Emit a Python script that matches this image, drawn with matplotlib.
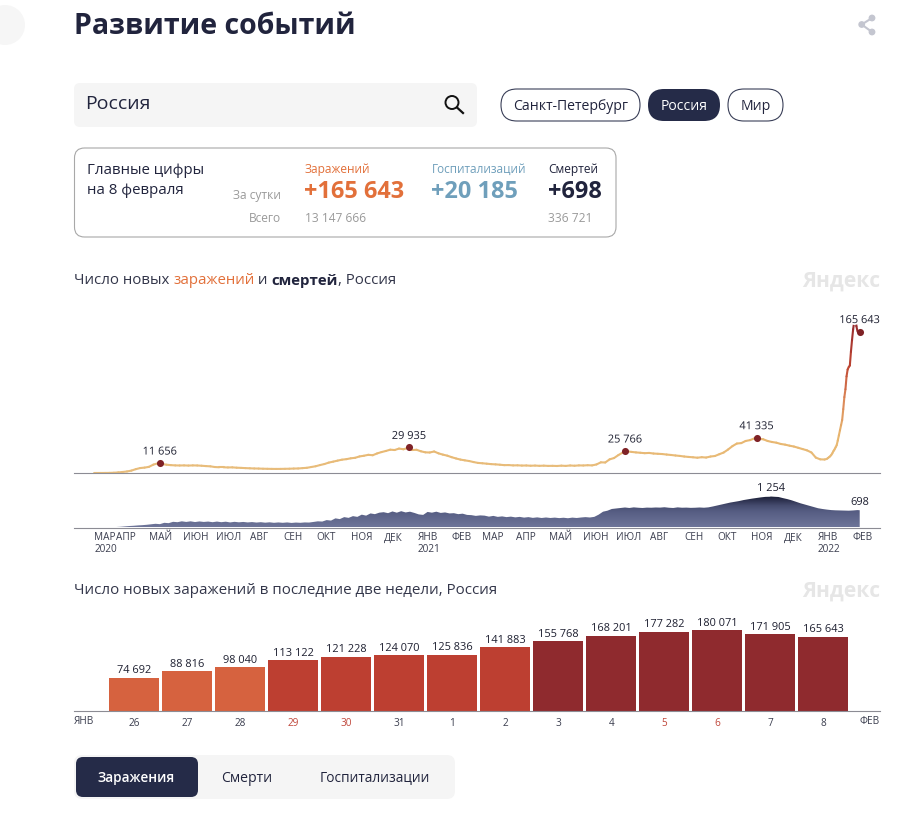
import numpy as np
import pandas as pd
import matplotlib
matplotlib.use('Agg')
from matplotlib import pyplot as plt
from matplotlib.collections import LineCollection
from matplotlib.colors import LinearSegmentedColormap, Normalize
from matplotlib.patches import FancyBboxPatch, Circle
import matplotlib.patheffects as pe
import matplotlib.dates as mdates

plt.rcParams['font.family'] = ['Open Sans', 'DejaVu Sans']

W, H = 921, 814

# новые заражения, раз в 4 дня с 14 марта 2020
cases_grid = [10, 30, 60, 130, 300,
              700, 1200, 1800, 2800, 4500, 5800, 6300,
              7200, 9800, 11300, 10500, 9700, 9200, 8900, 8800,
              8900, 8700, 8900, 8800, 8500, 8100, 7800, 7000,
              6700, 6700, 6500, 6600, 6200, 6000, 5700,
              5500, 5300, 5200, 5000, 4900, 4800, 4750, 4800,
              4900, 5000, 5200, 5300, 5700, 6100, 7000, 7900,
              9300, 10500, 12200, 13300, 14500, 15600, 16200,
              17200, 17800, 19400, 20200, 21300, 20800, 22900, 24500,
              25800, 27300, 26900, 28600, 27800, 29300, 26900, 27200,
              25400, 24200, 24000, 25200, 23000, 21500, 20300,
              18500, 17000, 15700, 14800, 14000, 12800, 11800,
              11400, 10900, 10400, 10100, 9700, 9200, 9300, 8900,
              9000, 8700, 8800, 8500, 8700, 8400, 8600, 8300,
              8400, 8200, 8600, 8300, 8800, 8500, 8900,
              8800, 9100, 8900, 10000, 12500, 12300, 16000, 17500,
              21000, 24000, 25300, 24700, 24100, 23700, 23200, 23500,
              22800, 22500, 22200, 21600, 21100, 20500, 20000,
              19300, 18800, 18400, 17900, 18500, 18100, 19300, 19900,
              22000, 24000, 27500, 31500, 34500, 35000, 37500, 38500,
              40500, 40000, 39500, 37500, 36300, 35500, 34000,
              33200, 32000, 31000, 29500, 28000, 26500, 24000, 18000,
              16000, 15800]
# январь 2022 по дням, с 9 по 23
cases_jan = [16500, 17500, 18500, 19500, 21000, 23000, 25500, 27500, 30000, 32500, 38000, 44000, 50000, 56000, 62000]

# последние две недели
bar_days = ['26', '27', '28', '29', '30', '31', '1', '2', '3', '4', '5', '6', '7', '8']
bar_values = [74692, 88816, 98040, 113122, 121228, 124070, 125836,
              141883, 155768, 168201, 177282, 180071, 171905, 165643]
bar_weekend = ['29', '30', '5', '6']

peak_dates = ['2020-05-11', '2020-12-24', '2021-07-09', '2021-11-06', '2022-02-08']
peak_values = [11656, 29935, 25766, 41335, 165643]

# смерти, раз в 4 дня с 12 марта 2020
deaths = [2, 3, 5, 8, 12,
          20, 30, 45, 60, 70, 85, 95, 110,
          130, 150, 135, 190, 175, 230, 215, 250,
          225, 250, 220, 245, 225, 240, 215,
          240, 215, 235, 205, 230, 210, 225, 205,
          220, 200, 215, 195, 210, 190, 205, 190,
          205, 185, 200, 190, 205, 200, 225,
          250, 240, 300, 280, 370, 340, 420, 390,
          460, 430, 520, 480, 570, 540, 600,
          620, 580, 650, 600, 660, 610, 640, 590,
          530, 510, 630, 600, 640, 590, 610, 570,
          580, 540, 560, 510, 500, 470, 490,
          480, 440, 470, 430, 450, 420, 440, 410,
          430, 400, 420, 390, 410, 385, 405,
          385, 400, 380, 395, 375, 400, 385, 405,
          420, 405, 430, 520, 640, 680, 750,
          770, 790, 810, 790, 815, 800, 790, 805,
          800, 810, 805, 820, 800, 790, 815, 800,
          805, 795, 800, 810, 800, 815, 850,
          890, 930, 970, 1010, 1040, 1070, 1110, 1140,
          1170, 1195, 1220, 1240, 1245, 1245, 1235, 1190,
          1150, 1100, 1040, 980, 930, 880, 830,
          780, 750, 725, 705, 695, 690, 685, 680,
          690, 705]
death_peak_date = '2021-11-19'
death_peak = 1254
death_last_date = '2022-02-08'
death_last = 698

month_dates = ['2020-03-12', '2020-04-01', '2020-05-01', '2020-06-01', '2020-07-01', '2020-08-01',
               '2020-09-01', '2020-10-01', '2020-11-01', '2020-12-01', '2021-01-01', '2021-02-01',
               '2021-03-01', '2021-04-01', '2021-05-01', '2021-06-01', '2021-07-01', '2021-08-01',
               '2021-09-01', '2021-10-01', '2021-11-01', '2021-12-01', '2022-01-01', '2022-02-01']
month_labels = ['МАР\n2020', 'АПР', 'МАЙ', 'ИЮН', 'ИЮЛ', 'АВГ', 'СЕН', 'ОКТ', 'НОЯ', 'ДЕК',
                'ЯНВ\n2021', 'ФЕВ', 'МАР', 'АПР', 'МАЙ', 'ИЮН', 'ИЮЛ', 'АВГ', 'СЕН', 'ОКТ',
                'НОЯ', 'ДЕК', 'ЯНВ\n2022', 'ФЕВ']


def fs(px):
    return px * 0.72


def fmt(v):
    return f'{v:,}'.replace(',', ' ')


def make_axes(x0, x1, ytop, ybottom):
    return fig.add_axes([x0 / W, 1 - ybottom / H, (x1 - x0) / W, (ybottom - ytop) / H])


def rbox(x0, y0, x1, y1, r, fc, ec='none', lw=0.8):
    ui.add_patch(FancyBboxPatch((x0 + r, y0 + r), x1 - x0 - 2 * r, y1 - y0 - 2 * r,
                                boxstyle=f'round,pad={r},rounding_size={r}', fc=fc, ec=ec, lw=lw))


def label(x, y, s, px=14, c='#21243d', ha='left', weight='normal'):
    # va=center у этого шрифта сидит выше, чем надо
    return ui.text(x, y + 2, s, fontsize=fs(px), color=c, ha=ha, va='center', fontweight=weight)


fig = plt.figure(figsize=(W / 100, H / 100), dpi=100, facecolor='white')

# весь интерфейс рисуем в пикселях
ui = fig.add_axes([0, 0, 1, 1])
ui.set_xlim(0, W)
ui.set_ylim(H, 0)
ui.axis('off')

NAVY = '#252b48'
ORANGE = '#e2703a'
BLUE = '#6f9fbb'
GREY = '#9a9a9a'
TEXT = '#1d1f30'

ui.add_patch(Circle((5, 25), 20, fc='#f6f6f6', ec='none'))
label(74, 25, 'Развитие событий', 28.5, '#21243d', weight='bold')

# поделиться
sx = [861.7, 872, 872]
sy = [24.5, 18, 32]
ui.plot([sx[1], sx[0], sx[2]], [sy[1], sy[0], sy[2]], color='#c4c6d0', lw=1.5)
for a, b in zip(sx, sy):
    ui.add_patch(Circle((a, b), 3.4, fc='#c4c6d0', ec='none'))

# поиск
rbox(74, 83, 477, 127, 6, '#f5f5f5')
label(85, 102, 'Россия', 19.5, '#21243d')
ui.add_patch(Circle((452, 102.5), 6.5, fc='none', ec='#111111', lw=1.4))
ui.plot([457, 463], [107.5, 113], color='#111111', lw=1.6)

rbox(501, 89, 640, 121, 16, 'white', '#3a3f58')
label(570.5, 105, 'Санкт-Петербург', 14, '#21243d', 'center')
rbox(648, 89, 720, 121, 16, NAVY)
label(684, 105, 'Россия', 14, 'white', 'center')
rbox(728, 89, 783, 121, 16, 'white', '#3a3f58')
label(755.5, 105, 'Мир', 14, '#21243d', 'center')

# главные цифры
rbox(74.5, 148, 616, 237, 10, 'white', '#a8a8a8')
label(87, 169, 'Главные цифры', 15, '#21243d')
label(87, 189, 'на 8 февраля', 15, '#21243d')
label(281, 193, 'За сутки', 12, GREY, 'right')
label(281, 216, 'Всего', 12, GREY, 'right')
label(305, 167, 'Заражений', 12, ORANGE)
label(304, 190, '+165 643', 23.5, ORANGE, weight='bold')
label(305, 216, '13 147 666', 12, GREY)
label(432, 167, 'Госпитализаций', 11.7, BLUE)
label(431, 190, '+20 185', 23.5, BLUE, weight='bold')
label(548, 167, 'Смертей', 12, '#21243d')
label(548, 190, '+698', 23.5, '#21243d', weight='bold')
label(548, 216, '336 721', 12, GREY)

# заголовок из кусков разного цвета
prev = label(74, 279, 'Число новых ', 15, '#33364a')
for s, c, w in [('заражений', ORANGE, 'normal'), (' и ', '#33364a', 'normal'),
                ('смертей', '#21243d', 'bold'), (', Россия', '#33364a', 'normal')]:
    prev = ui.annotate(s, xy=(1, 0), xycoords=prev, xytext=(0, 0), textcoords='offset points',
                       va='bottom', ha='left', fontsize=fs(15), color=c, fontweight=w)
label(74, 589, 'Число новых заражений в последние две недели, Россия', 15.1, '#33364a')
label(880, 279, 'Яндекс', 21, '#e6e6e6', 'right', 'bold')
label(880, 589, 'Яндекс', 21, '#e6e6e6', 'right', 'bold')

# табы снизу
rbox(74, 755, 455, 799, 8, '#f5f5f5')
rbox(76, 757, 198, 797, 7, NAVY)
label(136.5, 776, 'Заражения', 13.5, 'white', 'center', 'semibold')
label(247, 776, 'Смерти', 14, '#21243d', 'center')
label(375, 776, 'Госпитализации', 13.7, '#21243d', 'center')

# 1 апр 2020 -> 116 px, 1.097 px в день
xlim_dates = mdates.date2num([pd.Timestamp('2020-02-22 16:00'), pd.Timestamp('2022-02-26 12:00')])

# график заражений
ax = make_axes(74, 880, 300, 473)
ax.patch.set_alpha(0)
grid_d = pd.date_range('2020-03-14', periods=len(cases_grid), freq='4D')
jan_d = pd.date_range('2022-01-09', periods=len(cases_jan), freq='D')
# на исходной картинке линия заканчивается левее точки, поэтому конец сдвинут на 2 дня
bar_d = pd.date_range('2022-01-24', periods=len(bar_values), freq='D')
s = pd.concat([pd.Series(cases_grid, index=grid_d), pd.Series(peak_values[:4], index=pd.to_datetime(peak_dates[:4])),
               pd.Series(cases_jan, index=jan_d), pd.Series(bar_values, index=bar_d),
               pd.Series([5], index=pd.to_datetime(['2020-03-12']))]).sort_index()
xs = mdates.date2num(s.index)
ys = s.values

line_cmap = LinearSegmentedColormap.from_list('cases', [(0, '#e8bd7c'), (0.25, '#e8b66f'), (0.5, '#d98255'),
                                                        (0.7, '#bf4632'), (1, '#92282e')])
pts = np.column_stack([xs, ys])
segs = np.stack([pts[:-1], pts[1:]], axis=1)
lc = LineCollection(segs, cmap=line_cmap, norm=Normalize(0, 180071), linewidth=1.5, capstyle='round')
lc.set_array((ys[:-1] + ys[1:]) / 2)
ax.add_collection(lc)
ax.scatter(mdates.date2num(pd.to_datetime(peak_dates)), peak_values, s=26, color='#7f2226', zorder=3, linewidths=0)
for d, v in zip(peak_dates, peak_values):
    ax.annotate(fmt(v), (mdates.date2num(pd.Timestamp(d)), v), xytext=(0, fs(11)), textcoords='offset points',
                ha='center', va='center', fontsize=fs(11), color=TEXT, zorder=4,
                path_effects=[pe.withStroke(linewidth=2.5, foreground='white')])
ax.set_xlim(xlim_dates)
ax.set_ylim(0, 173 / 0.000854)
ax.set_yticks([])
ax.set_xticks([])
for sp in ['top', 'left', 'right']:
    ax.spines[sp].set_visible(False)
ax.spines['bottom'].set_color('#8c8c94')

# график смертей
ax2 = make_axes(74, 880, 480, 527.5)
ax2.patch.set_alpha(0)
death_s = pd.concat([pd.Series(deaths, index=pd.date_range('2020-03-12', periods=len(deaths), freq='4D')),
                     pd.Series([death_peak, death_last], index=pd.to_datetime([death_peak_date, death_last_date]))]).sort_index()
dx = mdates.date2num(death_s.index)
ylim2 = (0, 47.5 / 0.0247)
poly = ax2.fill_between(dx, death_s.values, 0, color='none')
area_cmap = LinearSegmentedColormap.from_list('deaths', [(0, '#6e7599'), (0.5, '#565d83'), (0.7, '#454b6e'),
                                                         (0.85, '#2f3452'), (1, '#1b1f36')])
grad = np.linspace(0, 1, 200).reshape(-1, 1)
im = ax2.imshow(grad, origin='lower', aspect='auto', cmap=area_cmap,
                extent=[dx[0], dx[-1], 0, death_peak], zorder=1)
im.set_clip_path(poly.get_paths()[0], transform=ax2.transData)
ax2.annotate(fmt(death_peak), (mdates.date2num(pd.Timestamp(death_peak_date)), death_peak), xytext=(0, fs(8)),
             textcoords='offset points', ha='center', va='center', fontsize=fs(11), color=TEXT, zorder=4)
ax2.annotate(fmt(death_last), (mdates.date2num(pd.Timestamp(death_last_date)), death_last), xytext=(0, fs(8)),
             textcoords='offset points', ha='center', va='center', fontsize=fs(11), color=TEXT, zorder=4)
ax2.set_xlim(xlim_dates)
ax2.set_ylim(ylim2)
ax2.set_yticks([])
ax2.set_xticks(mdates.date2num(pd.to_datetime(month_dates)))
ax2.set_xticklabels(month_labels, ha='left', fontsize=fs(10), color='#3a3d4e', linespacing=1.05)
ax2.tick_params(axis='x', length=0, pad=fs(5))
for sp in ['top', 'left', 'right']:
    ax2.spines[sp].set_visible(False)
ax2.spines['bottom'].set_color('#8c8c94')

# столбики за две недели
ax3 = make_axes(74, 880, 610, 711.3)
ax3.patch.set_alpha(0)
pos = np.arange(len(bar_values))
colors = ['#d6623f' if v < 100000 else '#bd3f31' if v < 150000 else '#8f2a2e' for v in bar_values]
ax3.bar(pos, bar_values, width=50 / 53, color=colors)
for i, v in zip(pos, bar_values):
    ax3.text(i, v + 3000, fmt(v), ha='center', va='bottom', fontsize=fs(11), color=TEXT)
ax3.set_xlim((74 - 134.3) / 53, (880 - 134.3) / 53)
ax3.set_ylim(0, 101.3 / 0.00045)
ax3.set_yticks([])
ax3.set_xticks(pos)
ax3.set_xticklabels(bar_days, fontsize=fs(10), color='#3a3d4e')
for t, d in zip(ax3.get_xticklabels(), bar_days):
    if d in bar_weekend:
        t.set_color('#c0483c')
ax3.tick_params(axis='x', length=0, pad=fs(7))
for sp in ['top', 'left', 'right']:
    ax3.spines[sp].set_visible(False)
ax3.spines['bottom'].set_color('#8c8c94')
label(74, 720, 'ЯНВ', 10, '#3a3d4e')
label(880, 720, 'ФЕВ', 10, '#3a3d4e', 'right')

fig.savefig('out.png', dpi=100)
